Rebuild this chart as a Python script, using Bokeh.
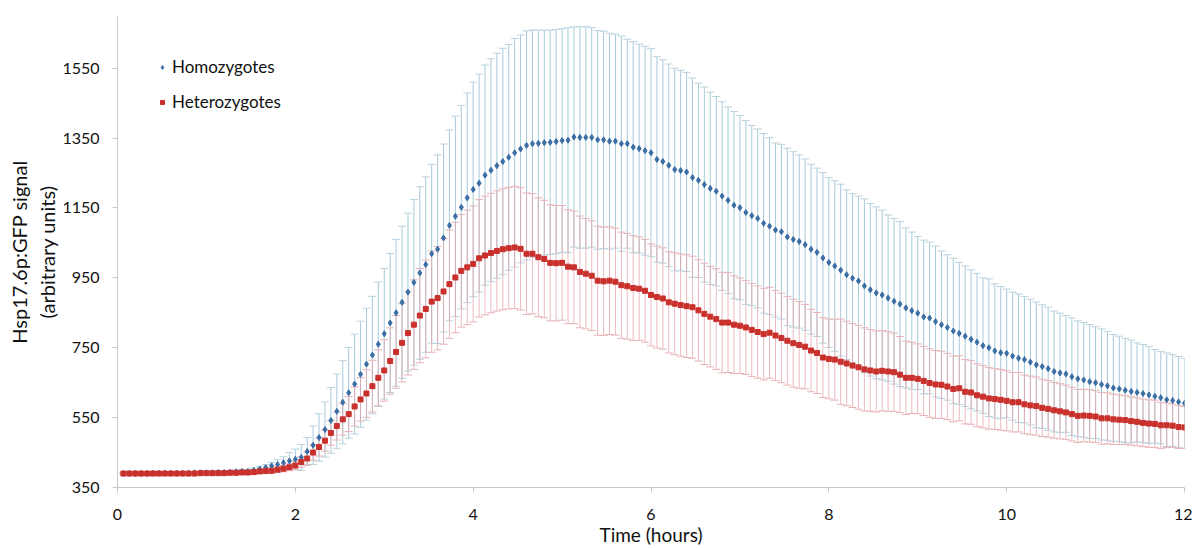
from bokeh.plotting import figure
from bokeh.models import ColumnDataSource, Whisker, TeeHead, Range1d, FixedTicker
from bokeh.embed import file_html
from bokeh.resources import INLINE

# sampling times: every 4 minutes over 12 hours
time_min = list(range(4, 721, 4))

homo_mean = [
    390, 390, 390, 390, 390, 391, 391, 391, 391, 391,
    391, 391, 392, 392, 392, 392, 393, 393, 394, 395,
    396, 396, 399, 403, 407, 412, 416, 421, 426, 431,
    436, 453, 471, 493, 516, 542, 568, 594, 621, 646,
    674, 703, 729, 760, 790, 821, 850, 880, 909, 937,
    964, 988, 1019, 1032, 1064, 1100, 1126, 1152, 1179, 1203,
    1221, 1244, 1258, 1271, 1283, 1295, 1308, 1319, 1329, 1334,
    1335, 1337, 1338, 1340, 1343, 1344, 1353, 1352, 1352, 1352,
    1345, 1345, 1341, 1341, 1334, 1334, 1324, 1320, 1314, 1308,
    1289, 1283, 1272, 1260, 1257, 1253, 1237, 1229, 1217, 1206,
    1198, 1184, 1172, 1158, 1151, 1137, 1128, 1120, 1106, 1098,
    1087, 1082, 1067, 1060, 1054, 1045, 1032, 1023, 1007, 994,
    984, 972, 959, 949, 941, 927, 916, 907, 901, 892,
    883, 875, 864, 856, 849, 838, 835, 825, 816, 808,
    798, 791, 783, 774, 766, 756, 750, 741, 736, 734,
    726, 720, 716, 709, 701, 696, 690, 682, 678, 675,
    667, 661, 658, 653, 650, 645, 641, 635, 632, 628,
    625, 622, 619, 615, 611, 607, 601, 599, 595, 591,
]

homo_err = [
    2, 2, 2, 2, 2, 2, 2, 2, 2, 2,
    2, 2, 3, 3, 3, 3, 4, 4, 4, 5,
    5, 6, 7, 8, 9, 10, 14, 17, 24, 29,
    37, 40, 55, 68, 79, 94, 107, 119, 130, 143,
    152, 160, 168, 178, 187, 199, 210, 218, 226, 237,
    247, 251, 256, 270, 269, 273, 287, 291, 300, 307,
    312, 315, 319, 322, 324, 323, 327, 326, 328, 325,
    324, 322, 321, 321, 320, 322, 315, 317, 317, 314,
    313, 311, 309, 306, 308, 299, 302, 299, 299, 298,
    294, 291, 290, 290, 287, 285, 285, 278, 279, 275,
    271, 270, 267, 268, 264, 263, 258, 256, 257, 253,
    249, 250, 254, 251, 248, 245, 243, 241, 244, 243,
    244, 246, 243, 242, 243, 249, 247, 246, 243, 238,
    237, 236, 229, 225, 219, 220, 217, 216, 211, 208,
    208, 203, 201, 199, 197, 194, 197, 192, 189, 184,
    183, 184, 181, 180, 180, 177, 176, 173, 171, 167,
    168, 166, 164, 163, 160, 159, 156, 153, 151, 149,
    147, 142, 140, 139, 134, 132, 134, 131, 130, 129,
]

hetero_mean = [
    390, 390, 390, 390, 390, 390, 390, 390, 390, 390,
    390, 390, 390, 391, 391, 391, 391, 391, 392, 392,
    393, 393, 394, 396, 397, 398, 401, 404, 408, 413,
    423, 433, 450, 466, 484, 506, 526, 545, 560, 582,
    602, 619, 640, 664, 685, 712, 738, 764, 792, 816,
    842, 861, 882, 892, 911, 932, 951, 970, 980, 990,
    1006, 1014, 1021, 1027, 1032, 1035, 1037, 1033, 1019, 1019,
    1009, 1004, 993, 992, 993, 982, 980, 967, 962, 956,
    942, 940, 942, 939, 929, 926, 921, 919, 913, 901,
    895, 891, 880, 876, 872, 869, 866, 857, 847, 839,
    832, 822, 822, 816, 813, 808, 801, 795, 789, 793,
    785, 778, 770, 763, 758, 753, 742, 735, 722, 718,
    716, 710, 705, 699, 694, 688, 685, 682, 684, 682,
    680, 673, 664, 664, 661, 655, 649, 645, 644, 639,
    632, 634, 624, 622, 614, 610, 605, 603, 601, 598,
    594, 594, 588, 585, 583, 578, 575, 571, 568, 565,
    560, 555, 556, 555, 553, 548, 548, 545, 544, 543,
    540, 538, 535, 533, 532, 528, 528, 527, 523, 522,
]

hetero_err = [
    2, 2, 2, 2, 2, 2, 2, 2, 2, 2,
    2, 2, 2, 2, 2, 3, 3, 3, 3, 4,
    4, 5, 5, 6, 6, 7, 8, 9, 10, 12,
    15, 18, 22, 26, 30, 35, 40, 45, 50, 56,
    62, 68, 74, 80, 88, 95, 104, 112, 120, 128,
    135, 140, 145, 148, 151, 155, 158, 161, 164, 166,
    168, 170, 171, 172, 173, 174, 175, 175, 174, 172,
    170, 168, 166, 165, 164, 163, 161, 160, 158, 157,
    156, 155, 154, 153, 152, 151, 150, 148, 147, 146,
    146, 145, 145, 146, 146, 147, 146, 145, 145, 144,
    144, 144, 143, 140, 137, 134, 133, 132, 131, 130,
    129, 128, 127, 126, 124, 121, 118, 116, 114, 114,
    116, 122, 121, 120, 120, 119, 117, 116, 115, 114,
    112, 109, 105, 102, 100, 99, 98, 97, 96, 95,
    94, 93, 92, 91, 90, 89, 88, 87, 87, 86,
    85, 85, 84, 84, 83, 82, 81, 80, 79, 78,
    77, 76, 75, 75, 74, 74, 73, 72, 71, 70,
    69, 69, 68, 68, 68, 66, 64, 62, 61, 60,
]

x_ticks = [0, 2, 4, 6, 8, 10, 12]
y_ticks = [350, 550, 750, 950, 1150, 1350, 1550]
x_title = "Time (hours)"
y_title = "Hsp17.6p:GFP signal\n(arbitrary units)"

FONT = "Lato"

hours = [m / 60 for m in time_min]


def make_source(mean, err):
    return ColumnDataSource(dict(
        x=hours,
        y=mean,
        upper=[m + e for m, e in zip(mean, err)],
        lower=[m - e for m, e in zip(mean, err)],
    ))


src_homo = make_source(homo_mean, homo_err)
src_het = make_source(hetero_mean, hetero_err)

p = figure(width=1192, height=548, output_backend="svg", toolbar_location=None,
           x_range=Range1d(0, 12), y_range=Range1d(350, 1698))
p.min_border_left = 117
p.min_border_right = 8
p.min_border_top = 16
p.min_border_bottom = 59
p.outline_line_color = None
p.xgrid.visible = False
p.ygrid.visible = False
p.background_fill_color = "white"
p.border_fill_color = "white"

# error bars
wh_homo = Whisker(source=src_homo, base="x", upper="upper", lower="lower",
                  line_color="#9cc3d6", line_width=1, line_alpha=0.9,
                  upper_head=TeeHead(size=8, line_color="#b9d3df", line_width=1),
                  lower_head=TeeHead(size=8, line_color="#b9d3df", line_width=1))
wh_het = Whisker(source=src_het, base="x", upper="upper", lower="lower",
                 line_color="#e3a3a9", line_width=1, line_alpha=0.75,
                 upper_head=TeeHead(size=8, line_color="#e8b2b7", line_width=1),
                 lower_head=TeeHead(size=8, line_color="#e8b2b7", line_width=1))
p.add_layout(wh_homo)
p.add_layout(wh_het)

p.scatter("x", "y", source=src_homo, marker="diamond", size=6,
          fill_color="#3a6ea5", line_color="#3a6ea5", legend_label="Homozygotes")
p.scatter("x", "y", source=src_het, marker="square", size=5,
          fill_color="#c9302c", line_color="#c9302c", legend_label="Heterozygotes")

for ax in (p.xaxis[0], p.yaxis[0]):
    ax.axis_line_color = "#c8c8c8"
    ax.major_tick_line_color = "#c8c8c8"
    ax.minor_tick_line_color = None
    ax.major_tick_in = 0
    ax.major_tick_out = 5
    ax.major_label_text_font = FONT
    ax.major_label_text_font_size = "16px"
    ax.major_label_text_color = "#111111"
    ax.axis_label_text_font = FONT
    ax.axis_label_text_font_style = "normal"
    ax.axis_label_text_color = "#111111"

p.xaxis.axis_label_text_font_size = "19px"
p.yaxis.axis_label_text_font_size = "20px"
p.xaxis.ticker = FixedTicker(ticks=x_ticks)
p.yaxis.ticker = FixedTicker(ticks=y_ticks)
p.xaxis.axis_label = x_title
p.yaxis.axis_label = y_title
p.xaxis.major_label_standoff = 16
p.yaxis.major_label_standoff = 13
p.xaxis.axis_label_standoff = 0
p.yaxis.axis_label_standoff = 0

lg = p.legend[0]
lg.location = (40, 375)
lg.border_line_color = None
lg.background_fill_alpha = 0
lg.label_text_font = FONT
lg.label_text_font_size = "17px"
lg.label_text_color = "#111111"
lg.glyph_width = 10
lg.glyph_height = 20
lg.label_height = 20
lg.label_standoff = 5
lg.spacing = 14
lg.padding = 0
lg.margin = 0

open("out.html", "w").write(file_html(p, INLINE))
